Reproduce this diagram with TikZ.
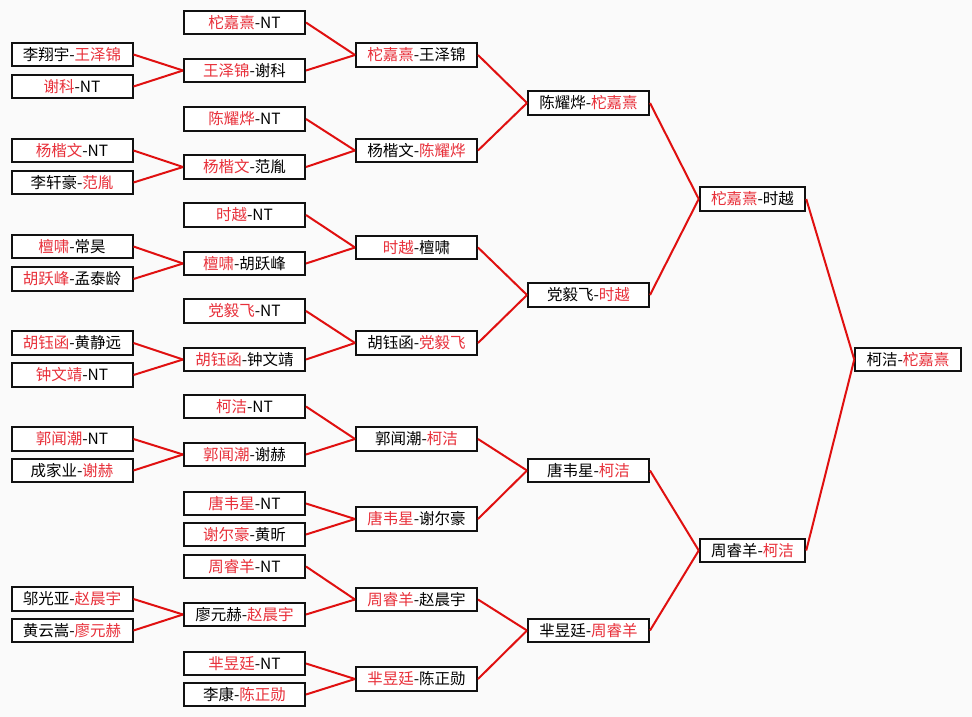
\documentclass[tikz,border=0pt]{standalone}
\usepackage{fontspec}
\setmainfont{Noto Sans CJK SC}
\usepackage{tikz}
\definecolor{paper}{HTML}{FAFAFA}
\definecolor{ink}{HTML}{111111}
\definecolor{winred}{HTML}{E8303A}
\definecolor{linkred}{HTML}{E01010}
\newcommand{\win}[1]{\textcolor{winred}{#1}}
\tikzset{
  matchcard/.style={
    draw=ink, fill=white, line width=2pt,
    minimum width=121pt, minimum height=23.5pt, inner sep=0pt,
    font=\fontsize{15.5}{17}\selectfont
  },
  shortcard/.style={matchcard, minimum width=105.5pt},
  link/.style={draw=linkred, line width=2pt}
}

\begin{document}
\begin{tikzpicture}[x=1pt,y=-1pt]
  \fill[paper] (0,0) rectangle (972,717);
  \useasboundingbox (0,0) rectangle (972,717);

  % first round
  \foreach \i/\y/\lab in {1/54.5/{李翔宇-\win{王泽锦}},2/86.5/{\win{谢科}-NT},
      3/150.5/{\win{杨楷文}-NT},4/182.5/{李轩豪-\win{范胤}},
      5/246.5/{\win{檀啸}-常昊},6/279/{\win{胡跃峰}-孟泰龄},
      7/343/{\win{胡钰函}-黄静远},8/375/{\win{钟文靖}-NT},
      9/439/{\win{郭闻潮}-NT},10/470.5/{成家业-\win{谢赫}},
      11/599/{邬光亚-\win{赵晨宇}},12/630.5/{黄云嵩-\win{廖元赫}}} {
    \node[matchcard] (a\i) at (72,\y) {\lab};
  }

  % second round
  \foreach \i/\y/\lab in {1/22.5/{\win{柁嘉熹}-NT},2/70.5/{\win{王泽锦}-谢科},
      3/119/{\win{陈耀烨}-NT},4/167/{\win{杨楷文}-范胤},
      5/215/{\win{时越}-NT},6/263.5/{\win{檀啸}-胡跃峰},
      7/311/{\win{党毅飞}-NT},8/359.5/{\win{胡钰函}-钟文靖},
      9/406.5/{\win{柯洁}-NT},10/454.5/{\win{郭闻潮}-谢赫},
      11/503.5/{\win{唐韦星}-NT},12/534.5/{\win{谢尔豪}-黄昕},
      13/566.5/{\win{周睿羊}-NT},14/614.5/{廖元赫-\win{赵晨宇}},
      15/663.5/{\win{芈昱廷}-NT},16/694.5/{李康-\win{陈正勋}}} {
    \node[matchcard] (b\i) at (244.5,\y) {\lab};
  }

  % third round
  \foreach \i/\y/\lab in {1/55/{\win{柁嘉熹}-王泽锦},2/150.5/{杨楷文-\win{陈耀烨}},
      3/247.5/{\win{时越}-檀啸},4/343/{胡钰函-\win{党毅飞}},
      5/439/{郭闻潮-\win{柯洁}},6/519/{\win{唐韦星}-谢尔豪},
      7/599.5/{\win{周睿羊}-赵晨宇},8/679/{\win{芈昱廷}-陈正勋}} {
    \node[matchcard] (c\i) at (416.5,\y) {\lab};
  }

  % quarter finals
  \foreach \i/\y/\lab in {1/103/{陈耀烨-\win{柁嘉熹}},2/295/{党毅飞-\win{时越}},
      3/470.5/{唐韦星-\win{柯洁}},4/630.5/{芈昱廷-\win{周睿羊}}} {
    \node[matchcard] (d\i) at (588.5,\y) {\lab};
  }

  % semi finals and final
  \node[shortcard] (e1) at (752.5,199) {\win{柁嘉熹}-时越};
  \node[shortcard] (e2) at (752.5,550.5) {周睿羊-\win{柯洁}};
  \node[shortcard] (f) at (908,359.5) {柯洁-\win{柁嘉熹}};

  \foreach \p/\c in {1/2,2/2,3/4,4/4,5/6,6/6,7/8,8/8,9/10,10/10,11/14,12/14}
    \draw[link] (a\p.east) -- (b\c.west);
  \foreach \p/\c in {1/1,2/1,3/2,4/2,5/3,6/3,7/4,8/4,9/5,10/5,11/6,12/6,13/7,14/7,15/8,16/8}
    \draw[link] (b\p.east) -- (c\c.west);
  \foreach \p/\c in {1/1,2/1,3/2,4/2,5/3,6/3,7/4,8/4}
    \draw[link] (c\p.east) -- (d\c.west);
  \foreach \p/\c in {1/1,2/1,3/2,4/2}
    \draw[link] (d\p.east) -- (e\c.west);
  \draw[link] (e1.east) -- (f.west);
  \draw[link] (e2.east) -- (f.west);
\end{tikzpicture}
\end{document}
